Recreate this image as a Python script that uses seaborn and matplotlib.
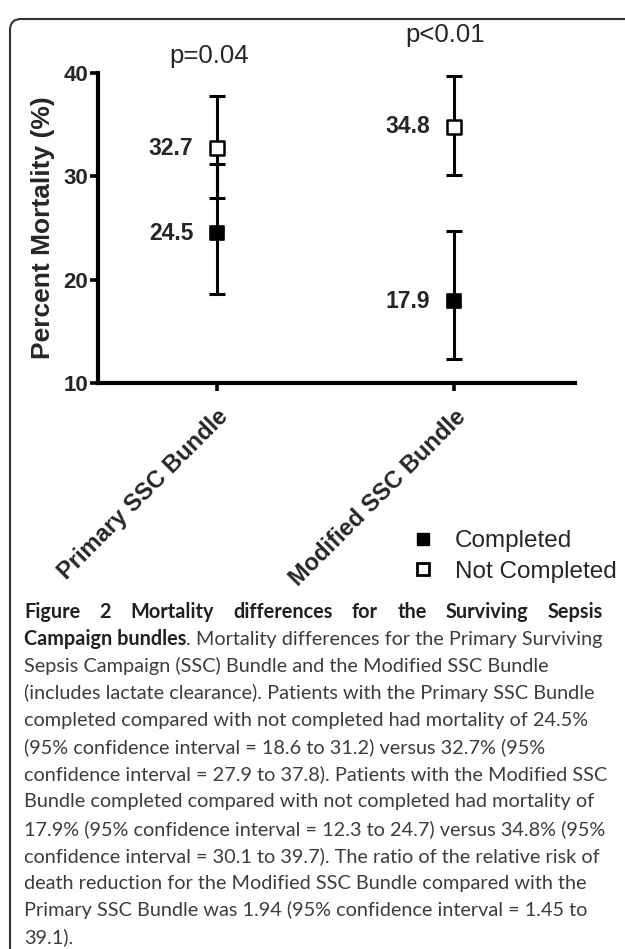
import pandas as pd
import matplotlib
matplotlib.use("Agg")
import matplotlib.pyplot as plt
import seaborn as sns
from matplotlib.patches import FancyBboxPatch
from matplotlib.transforms import IdentityTransform
from matplotlib.lines import Line2D

# Chart data
bundles = ["Primary SSC Bundle", "Modified SSC Bundle"]
completed = [24.5, 17.9]
completed_lo = [18.6, 12.3]
completed_hi = [31.2, 24.7]
not_completed = [32.7, 34.8]
not_completed_lo = [27.9, 30.1]
not_completed_hi = [37.8, 39.7]
p_values = ["p=0.04", "p<0.01"]
y_ticks = [10, 20, 30, 40]

caption_lines = [
    "Figure 2 Mortality differences for the Surviving Sepsis",
    "Campaign bundles|. Mortality differences for the Primary Surviving",
    "Sepsis Campaign (SSC) Bundle and the Modified SSC Bundle",
    "(includes lactate clearance). Patients with the Primary SSC Bundle",
    "completed compared with not completed had mortality of 24.5%",
    "(95% confidence interval = 18.6 to 31.2) versus 32.7% (95%",
    "confidence interval = 27.9 to 37.8). Patients with the Modified SSC",
    "Bundle completed compared with not completed had mortality of",
    "17.9% (95% confidence interval = 12.3 to 24.7) versus 34.8% (95%",
    "confidence interval = 30.1 to 39.7). The ratio of the relative risk of",
    "death reduction for the Modified SSC Bundle compared with the",
    "Primary SSC Bundle was 1.94 (95% confidence interval = 1.45 to",
    "39.1).",
]

# long-form table for seaborn
df = pd.DataFrame({
    "bundle": bundles * 2,
    "status": ["Completed"] * 2 + ["Not Completed"] * 2,
    "mortality": completed + not_completed,
    "lo": completed_lo + not_completed_lo,
    "hi": completed_hi + not_completed_hi,
})
df["pos"] = df["bundle"].map({b: i for i, b in enumerate(bundles)})

sns.set_style("ticks")
plt.rcParams["font.family"] = ["Liberation Sans", "DejaVu Sans"]

W, H = 625, 949
fig = plt.figure(figsize=(W / 100, H / 100), dpi=100)
ax = fig.add_axes([98 / W, 1 - 383 / H, 477 / W, 310 / H])

# error bars first, markers on top
for status in ["Completed", "Not Completed"]:
    sub = df[df["status"] == status]
    ax.errorbar(sub["pos"], sub["mortality"],
                yerr=[sub["mortality"] - sub["lo"], sub["hi"] - sub["mortality"]],
                fmt="none", ecolor="black", elinewidth=2.2, capsize=5.8, capthick=2.2, zorder=2)

sns.scatterplot(data=df[df["status"] == "Completed"], x="pos", y="mortality",
                marker="s", s=90, color="black", edgecolor="black", linewidth=1.2,
                zorder=3, ax=ax, legend=False)
sns.scatterplot(data=df[df["status"] == "Not Completed"], x="pos", y="mortality",
                marker="s", s=90, facecolor="white", edgecolor="black", linewidth=1.8,
                zorder=3, ax=ax, legend=False)

# value labels left of markers
for _, row in df.iterrows():
    ax.annotate(f"{row['mortality']:.1f}", (row["pos"], row["mortality"]),
                xytext=(-17, 0), textcoords="offset points", ha="right", va="center",
                fontsize=16.5, fontweight="bold")

# p-values above each bundle
p_heights = [41.6, 43.7]
for i, p in enumerate(p_values):
    ax.text(i - 0.035, p_heights[i], p, ha="center", va="center", fontsize=18.5, clip_on=False)

ax.set_xlim(-0.502, 1.511)
ax.set_ylim(10, 40)
ax.set_yticks(y_ticks)
ax.set_yticklabels([str(t) for t in y_ticks], fontsize=16, fontweight="bold")
ax.set_xticks(range(len(bundles)))
ax.set_xticklabels(bundles, rotation=45, ha="right", rotation_mode="anchor",
                   fontsize=17, fontweight="bold")
ax.set_xlabel("")
ax.set_ylabel("Percent Mortality (%)", fontsize=19, fontweight="bold", labelpad=6)
ax.tick_params(axis="both", width=2.6, length=6, color="black", pad=1)
ax.tick_params(axis="x", pad=10)
for s in ["left", "bottom"]:
    ax.spines[s].set_linewidth(3)
    ax.spines[s].set_color("black")
sns.despine(ax=ax)

handles = [
    Line2D([], [], marker="s", linestyle="none", markersize=9, markerfacecolor="black",
           markeredgecolor="black", label="Completed"),
    Line2D([], [], marker="s", linestyle="none", markersize=9, markerfacecolor="white",
           markeredgecolor="black", markeredgewidth=2, label="Not Completed"),
]
fig.legend(handles=handles, loc="upper left", bbox_to_anchor=(411 / W, 1 - 530 / H),
           frameon=False, fontsize=17.5, handlelength=1.0, handletextpad=0.8,
           borderpad=0, borderaxespad=0, labelspacing=0.35)

# panel border (rounded corner, runs past right and bottom edges)
border = FancyBboxPatch((10, -30), 700, H - 8 - 10 + 30 - 1,
                        boxstyle="round,pad=0,rounding_size=11",
                        transform=IdentityTransform(), fill=False,
                        edgecolor="#333333", linewidth=1.5)
fig.add_artist(border)

# caption
cap_font = ["Lato", "DejaVu Sans"]
renderer = fig.canvas.get_renderer()
left_px, right_px = 24, 603
line0_y, line_step = 612, 27.1


def text_width(s, **kw):
    t = fig.text(0, 0, s, **kw)
    w = t.get_window_extent(renderer=renderer).width
    t.remove()
    return w


# fit caption size to the width of line 2
base = 12.0
ref_w = text_width("Campaign bundles", family=cap_font, fontsize=base, fontweight="bold") + \
    text_width(". Mortality differences for the Primary Surviving", family=cap_font, fontsize=base)
cap_size = base * (right_px - left_px - 2) / ref_w

for i, line in enumerate(caption_lines):
    y = 1 - (line0_y + i * line_step) / H
    if i == 0:
        words = line.split()
        widths = [text_width(w_, family=cap_font, fontsize=cap_size, fontweight="bold") for w_ in words]
        gap = (right_px - left_px - sum(widths)) / (len(words) - 1)
        x = left_px
        for w_, wd in zip(words, widths):
            fig.text(x / W, y, w_, family=cap_font, fontsize=cap_size, fontweight="bold",
                     color="#231f20", va="center", ha="left")
            x += wd + gap
    elif "|" in line:
        bold_part, rest = line.split("|")
        bw = text_width(bold_part, family=cap_font, fontsize=cap_size, fontweight="bold")
        fig.text(left_px / W, y, bold_part, family=cap_font, fontsize=cap_size, fontweight="bold",
                 color="#231f20", va="center", ha="left")
        fig.text((left_px + bw) / W, y, rest, family=cap_font, fontsize=cap_size,
                 color="#3c3c3c", va="center", ha="left")
    else:
        fig.text(left_px / W, y, line, family=cap_font, fontsize=cap_size,
                 color="#3c3c3c", va="center", ha="left")

fig.savefig("out.png", dpi=100)
